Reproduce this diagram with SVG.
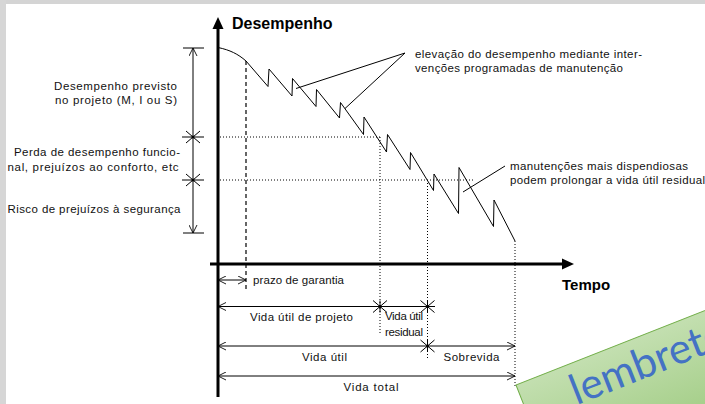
<svg xmlns="http://www.w3.org/2000/svg" width="705" height="404" viewBox="0 0 705 404">
<style>
text{font-family:"Liberation Sans",Arial,sans-serif;font-size:11.5px;fill:#111}
.t{font-weight:bold;fill:#000}
.ln{stroke:#000;stroke-width:1;fill:none}
.dot{stroke:#000;stroke-width:1;fill:none;stroke-dasharray:1 2}
.dash{stroke:#000;stroke-width:1.2;fill:none;stroke-dasharray:4 3}
.ax{stroke:#000;stroke-width:3;fill:none}
</style>
<defs>
<marker id="arr" viewBox="0 0 10 10" refX="10" refY="5" markerWidth="8" markerHeight="9" markerUnits="userSpaceOnUse" orient="auto-start-reverse">
<path d="M0,0 L10,5 L0,10" fill="none" stroke="#000" stroke-width="1.1"/>
</marker>
<g id="starV">
<path d="M-7,-6 L7,6 M-7,6 L7,-6 M0,-6 V6" class="ln"/>
<circle r="1.5" fill="#000"/>
</g>
<g id="starH">
<path d="M-7,-6 L7,6 M-7,6 L7,-6 M-11,0 H11" class="ln"/>
<circle r="1.5" fill="#000"/>
</g>
<linearGradient id="gn" x1="0" y1="0" x2="0" y2="1">
<stop offset="0" stop-color="#c3dfb0"/>
<stop offset="1" stop-color="#a6cf8a"/>
</linearGradient>
</defs>
<rect width="705" height="404" fill="#fff"/>
<rect width="705" height="4" fill="#d4d4d4"/>
<rect width="6" height="404" fill="#d6d6d6"/>

<g id="axes">
<line x1="218" y1="28" x2="218" y2="397" class="ax"/>
<path d="M218,17 L223.5,29 L212.5,29 Z" fill="#000"/>
<line x1="210" y1="264" x2="563" y2="264" class="ax"/>
<path d="M574,264 L562,258.5 L562,269.5 Z" fill="#000"/>
<text class="t" x="232" y="29" style="font-size:16px">Desempenho</text>
<text class="t" x="562" y="289.5" style="font-size:15px">Tempo</text>
</g>

<g id="curve">
<path class="ln" d="M218,47.5 C230,50 238,54 246,61 L268,86.5 L269,69 L292,96 L292.5,78.5 L316,106.5 L316.5,89.5 L339.5,118 L340.5,102.5 L363.5,134.5 L364,117 L386.5,152 L387.5,134.5 L410,169.5 L410.5,152.5 L433.5,190.5 L434,174 L458.5,213.5 L459,167.5 L493.5,226.5 L494,200 L515,241"/>
</g>

<g id="guides">
<line x1="220" y1="137" x2="380" y2="137" class="dot"/>
<line x1="220" y1="180" x2="474" y2="180" class="dot"/>
<line x1="380" y1="137" x2="380" y2="335" class="dot"/>
<line x1="427.5" y1="180" x2="427.5" y2="360" class="dot"/>
<line x1="515" y1="241" x2="515" y2="386" class="dot"/>
<line x1="246" y1="61" x2="246" y2="289" class="dash"/>
</g>

<g id="connectors">
<line x1="405" y1="53" x2="296" y2="88.5" class="ln"/>
<line x1="405" y1="53" x2="345" y2="108.5" class="ln"/>
<line x1="505" y1="166" x2="463" y2="192" class="ln"/>
</g>

<g id="dim-left">
<line x1="193" y1="48" x2="193" y2="233" class="ln" marker-start="url(#arr)" marker-end="url(#arr)"/>
<line x1="183" y1="48" x2="204" y2="48" class="ln"/>
<line x1="183" y1="233" x2="204" y2="233" class="ln"/>
<use href="#starH" x="193" y="137"/>
<use href="#starH" x="193" y="180"/>
<text x="177" y="90" text-anchor="end" textLength="123" lengthAdjust="spacing">Desempenho previsto</text>
<text x="177" y="103.5" text-anchor="end" textLength="122" lengthAdjust="spacing">no projeto (M, I ou S)</text>
<text x="14" y="155.5" textLength="166" lengthAdjust="spacing">Perda de desempenho funcio-</text>
<text x="7.5" y="170.5" textLength="171" lengthAdjust="spacing">nal, prejuízos ao conforto, etc</text>
<text x="7.5" y="212.5" textLength="173" lengthAdjust="spacing">Risco de prejuízos à segurança</text>
</g>

<g id="dim-garantia">
<line x1="218" y1="280" x2="246" y2="280" class="ln" marker-start="url(#arr)" marker-end="url(#arr)"/>
<text x="253" y="283.5" textLength="91" lengthAdjust="spacing">prazo de garantia</text>
</g>

<g id="dim-projeto">
<line x1="218" y1="306.5" x2="435" y2="306.5" class="ln" marker-start="url(#arr)"/>
<use href="#starV" x="380" y="306.5"/>
<use href="#starV" x="427.5" y="306.5"/>
<text x="250" y="320.5" textLength="103" lengthAdjust="spacing">Vida útil de projeto</text>
<text x="385" y="320" textLength="38" lengthAdjust="spacing">Vida útil</text>
<text x="385" y="335.5" textLength="38" lengthAdjust="spacing">residual</text>
</g>

<g id="dim-util">
<line x1="218" y1="346" x2="515" y2="346" class="ln" marker-start="url(#arr)" marker-end="url(#arr)"/>
<use href="#starV" x="427.5" y="346"/>
<text x="302" y="361" textLength="45" lengthAdjust="spacing">Vida útil</text>
<text x="443.5" y="361" textLength="56" lengthAdjust="spacing">Sobrevida</text>
</g>

<g id="dim-total">
<line x1="218" y1="376" x2="515" y2="376" class="ln" marker-start="url(#arr)" marker-end="url(#arr)"/>
<text x="343.5" y="391" textLength="55" lengthAdjust="spacing">Vida total</text>
</g>

<g id="note-elevacao">
<text x="415" y="57.5" textLength="227" lengthAdjust="spacing">elevação do desempenho mediante inter-</text>
<text x="415" y="72" textLength="208" lengthAdjust="spacing">venções programadas de manutenção</text>
</g>

<g id="note-manutencoes">
<text x="510" y="170" textLength="178" lengthAdjust="spacing">manutenções mais dispendiosas</text>
<text x="510" y="183.5" textLength="195" lengthAdjust="spacing">podem prolongar a vida útil residual</text>
</g>

<g id="lembrete" transform="translate(516,385) rotate(-21.5)">
<rect x="0" y="0" width="260" height="90" fill="url(#gn)" stroke="#70ad47" stroke-width="1"/>
<text x="49" y="41" style="font-family:Lato,'Open Sans',sans-serif;font-size:42px;fill:#4472c4">lembrete</text>
</g>
</svg>
